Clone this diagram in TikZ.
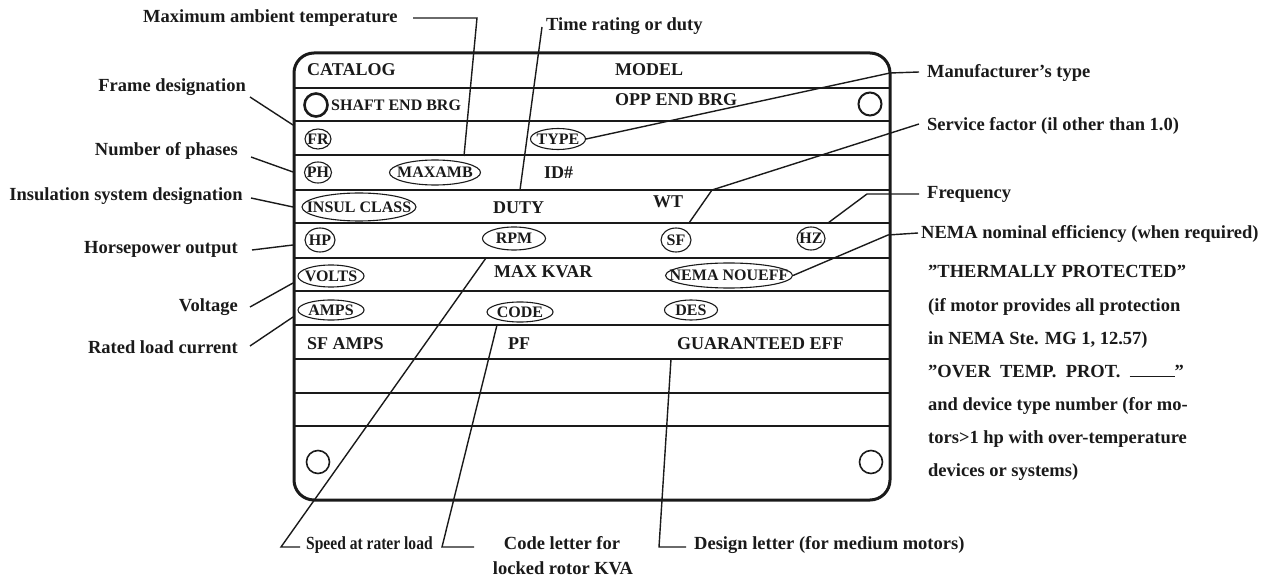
\documentclass[tikz,border=0pt]{standalone}
\usepackage{fontspec}
\usepackage{graphicx}
\setmainfont{Liberation Serif}
\usetikzlibrary{shapes.geometric}
\definecolor{ink}{HTML}{1A1A1A}
\newcommand\ovalnode[5]{\node[oval,minimum width=#3pt,minimum height=#4pt,label={[otxt]center:#5}] (#1) at (#2) {};}
\begin{document}
\begin{tikzpicture}[x=1pt,y=-1pt,
  lbl/.style={font=\fontsize{18.5}{20}\selectfont\bfseries, inner sep=0pt, text=ink},
  ptxt/.style={font=\fontsize{18}{20}\selectfont\bfseries, inner sep=0pt, text=ink, anchor=base west},
  otxt/.style={font=\fontsize{16}{17}\selectfont\bfseries, inner sep=0pt, text=ink},
  oval/.style={ellipse, draw=ink, line width=1.1pt, inner sep=0pt},
  rowline/.style={line width=2pt, draw=ink},
  lead/.style={line width=1.4pt, draw=ink},
  hole/.style={circle, draw=ink, inner sep=0pt, minimum size=23pt}
]
\useasboundingbox (0,0) rectangle (1267,588);

% plate
\draw[line width=3pt, draw=ink, rounded corners=20pt] (294,53) rectangle (890,500);
\foreach \yy in {88,121,155,190,223,258,291,325,359,393,426}
  \draw[rowline] (294,\yy) -- (890,\yy);

% holes
\node[hole, line width=2.6pt] (h1) at (316,105) {};
\node[hole, line width=2pt] (h2) at (870,104) {};
\node[hole, line width=1.6pt] (h3) at (318,462) {};
\node[hole, line width=1.6pt] (h4) at (871,462) {};

% plate texts
\node[ptxt] (tCat) at (307,76) {CATALOG};
\node[ptxt] (tModel) at (615,76) {MODEL};
\node[ptxt, font=\fontsize{16}{18}\selectfont\bfseries] (tShaft) at (331,111) {SHAFT END BRG};
\node[ptxt] (tOpp) at (615,106) {OPP END BRG};
\node[ptxt] (tID) at (544,178.5) {ID\#};
\node[ptxt] (tDuty) at (493,214) {DUTY};
\node[ptxt] (tWT) at (653,207.5) {WT};
\node[ptxt] (tKvar) at (494,277) {MAX KVAR};
\node[ptxt] (tSfa) at (307,349) {SF AMPS};
\node[ptxt] (tPF) at (508,349) {PF};
\node[ptxt] (tGE) at (677,349) {GUARANTEED EFF};

% ovals
\ovalnode{oFR}{318,139}{26}{20}{FR}
\ovalnode{oType}{558,139}{55}{21}{TYPE}
\ovalnode{oPH}{318,172.5}{27}{21}{PH}
\ovalnode{oMax}{435,172.5}{91}{25}{MAXAMB}
\ovalnode{oInsul}{359,207}{114}{28}{INSUL CLASS}
\ovalnode{oHP}{320,240}{30}{24}{HP}
\ovalnode{oRPM}{514,238.5}{63}{23}{RPM}
\ovalnode{oSF}{676,240}{30}{24}{SF}
\ovalnode{oHZ}{811,238.5}{28}{23}{HZ}
\ovalnode{oVolts}{331,276}{66}{22}{VOLTS}
\ovalnode{oNema}{729,275.5}{127}{25}{NEMA NOUEFF}
\ovalnode{oAmps}{331,310}{66}{20}{AMPS}
\ovalnode{oCode}{520,312}{66}{20}{CODE}
\ovalnode{oDes}{691,310}{53}{20}{DES}

% left labels
\node[lbl, anchor=base west] (lMax) at (143,23) {Maximum ambient temperature};
\node[lbl, anchor=base west] (lTime) at (546,31) {Time rating or duty};
\node[lbl, anchor=base east] (lFrame) at (246,92) {Frame designation};
\node[lbl, anchor=base east] (lPhase) at (238,156) {Number of phases};
\node[lbl, anchor=base east] (lInsul) at (243,201) {Insulation system designation};
\node[lbl, anchor=base east] (lHP) at (238,254) {Horsepower output};
\node[lbl, anchor=base east] (lVolt) at (238,312) {Voltage};
\node[lbl, anchor=base east] (lRated) at (238,353) {Rated load current};

% right labels
\node[lbl, anchor=base west] (lType) at (927,78) {Manufacturer’s type};
\node[lbl, anchor=base west] (lSF) at (927,131) {Service factor (il other than 1.0)};
\node[lbl, anchor=base west] (lFreq) at (927,199) {Frequency};
\node[lbl, anchor=base west] (lNema) at (921,239) {NEMA nominal efficiency (when required)};

\node[lbl, anchor=base west] (r1) at (928,278) {”THERMALLY PROTECTED”};
\node[lbl, anchor=base west] (r2) at (928,311) {(if motor provides all protection};
\node[lbl, anchor=base west] (r3) at (928,344) {in NEMA Ste. MG 1, 12.57)};
\node[lbl, anchor=base west] (r4) at (928,377) {”OVER\ \ TEMP.\ \ PROT.\ \ \rule{45pt}{1.2pt}”};
\node[lbl, anchor=base west] (r5) at (928,410) {and device type number (for mo-};
\node[lbl, anchor=base west] (r6) at (928,443) {tors>1 hp with over-temperature};
\node[lbl, anchor=base west] (r7) at (928,476) {devices or systems)};

% bottom labels
\node[lbl, anchor=base west] (lSpeed) at (306,549) {\scalebox{0.84}[1]{Speed at rater load}};
\node[lbl, anchor=base] (lCode1) at (562,549) {Code letter for};
\node[lbl, anchor=base] (lCode2) at (563,574) {locked rotor KVA};
\node[lbl, anchor=base west] (lDes) at (694,549) {Design letter (for medium motors)};

% leader coordinates
\coordinate (mA) at (413,18); \coordinate (mB) at (477,18); \coordinate (mC) at (464,156);
\coordinate (tA) at (542,27); \coordinate (tB) at (520,190);
\coordinate (fA) at (250,97); \coordinate (fB) at (293,125);
\coordinate (pA) at (251,157); \coordinate (pB) at (293,172);
\coordinate (iA) at (251,198); \coordinate (iB) at (293,207);
\coordinate (hA) at (252,250); \coordinate (hB) at (293,245);
\coordinate (vA) at (250,307); \coordinate (vB) at (293,283);
\coordinate (aA) at (250,346); \coordinate (aB) at (293,317);
\coordinate (yB) at (890,73); \coordinate (yC) at (919,72);
\coordinate (sA) at (689,223); \coordinate (sB) at (712,190); \coordinate (sC) at (919,124);
\coordinate (qA) at (828,223); \coordinate (qB) at (867,194); \coordinate (qC) at (919,194);
\coordinate (nB) at (888,235); \coordinate (nC) at (918,233);
\coordinate (spA) at (486,258); \coordinate (spB) at (281,547); \coordinate (spC) at (300,547);
\coordinate (cA) at (497,325); \coordinate (cB) at (442,547); \coordinate (cC) at (474,547);
\coordinate (dA) at (671,359); \coordinate (dB) at (659,547); \coordinate (dC) at (686,547);

% leaders
\draw[lead] (mA) -- (mB) -- (mC);
\draw[lead] (tA) -- (tB);
\draw[lead] (fA) -- (fB);
\draw[lead] (pA) -- (pB);
\draw[lead] (iA) -- (iB);
\draw[lead] (hA) -- (hB);
\draw[lead] (vA) -- (vB);
\draw[lead] (aA) -- (aB);
\draw[lead] (oType.east) -- (yB) -- (yC);
\draw[lead] (sA) -- (sB) -- (sC);
\draw[lead] (qA) -- (qB) -- (qC);
\draw[lead] (oNema.east) -- (nB) -- (nC);
\draw[lead] (spA) -- (spB) -- (spC);
\draw[lead] (cA) -- (cB) -- (cC);
\draw[lead] (dA) -- (dB) -- (dC);
\end{tikzpicture}
\end{document}
